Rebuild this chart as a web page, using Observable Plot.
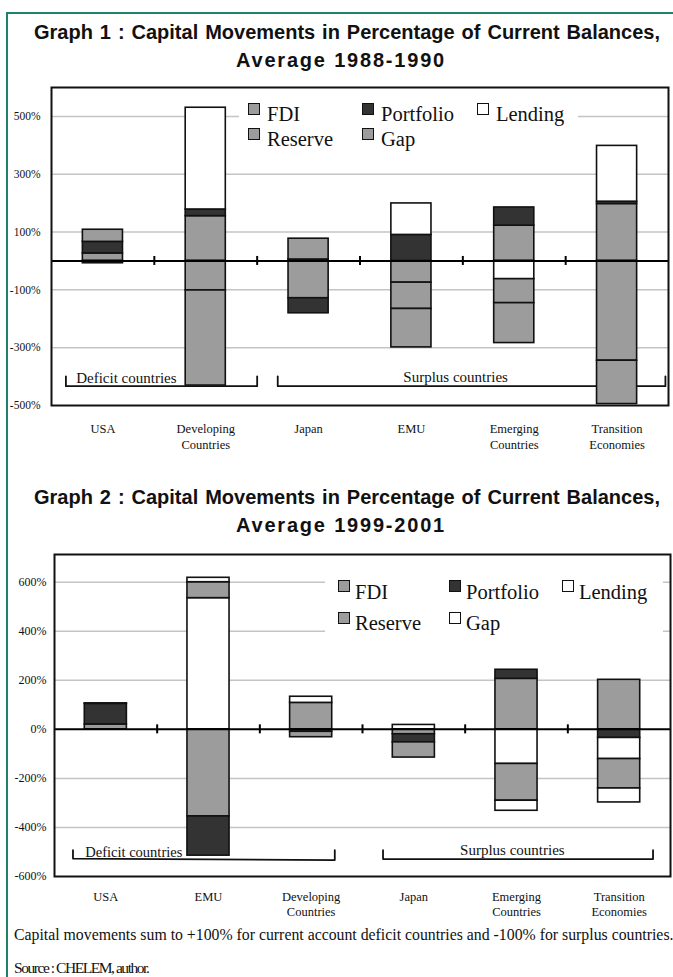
<!DOCTYPE html>
<html>
<head>
<meta charset="utf-8">
<script src="https://cdn.jsdelivr.net/npm/d3@7"></script>
<script src="https://cdn.jsdelivr.net/npm/@observablehq/plot@0.6"></script>
<style>
  html, body { margin:0; padding:0; background:#fff; }
  body { width:673px; height:977px; position:relative; overflow:hidden; }
  #outer { position:absolute; left:6px; top:12px; width:760px; height:1100px; border:2px solid #23806a; box-sizing:border-box; }
  .t1, .t2 { position:absolute; font-family:"Liberation Sans", Arial, sans-serif; font-weight:bold; font-size:20px; line-height:28px; color:#111; white-space:nowrap; }
  .t1 { left:34px; width:626px; text-align:justify; text-align-last:justify; }
  .t2 { left:0; width:682px; text-align:center; letter-spacing:1.8px; }
  .chart { position:absolute; left:0; }
  .legend { position:absolute; background:#fff; }
  .sw { position:absolute; width:12px; height:12px; box-sizing:border-box; border:1.6px solid #111; }
  .lt { position:absolute; font-family:"Liberation Serif", serif; font-size:20.5px; line-height:20px; color:#111; white-space:nowrap; }
  .note { position:absolute; left:14px; font-family:"Liberation Serif", serif; color:#111; white-space:nowrap; line-height:18px; }
</style>
</head>
<body>
<div id="outer"></div>
<div class="t1" style="top:18px">Graph 1 : Capital Movements in Percentage of Current Balances,</div>
<div class="t2" style="top:46px">Average 1988-1990</div>
<div id="c1" class="chart" style="top:70px"></div>
<div class="t1" style="top:483px">Graph 2 : Capital Movements in Percentage of Current Balances,</div>
<div class="t2" style="top:511px">Average 1999-2001</div>
<div id="c2" class="chart" style="top:540px"></div>
<div id="legends"></div>
<div class="note" style="top:926px;font-size:15.8px">Capital movements sum to +100% for current account deficit countries and -100% for surplus countries.</div>
<div class="note" style="top:959px;font-size:15.5px;letter-spacing:-1.45px">Source : CHELEM, author.</div>
<script>
// ---------- DATA ----------
const series = ["FDI", "Portfolio", "Lending", "Reserve", "Gap"];

// Graph 1 : average 1988-1990
const categories1 = ["USA", "Developing\nCountries", "Japan", "EMU", "Emerging\nCountries", "Transition\nEconomies"];
const fdi1       = [26, 155, -129, -75, 122, 197];
const portfolio1 = [40, 23, -52, 90, 63, 8];
const lending1   = [-8, 352, 5, 109, -63, 193];
const reserve1   = [0, -102, 0, -91, -83, -345];
const gap1       = [42, -329, 72, -133, -138, -150];
const yTicks1 = [500, 300, 100, -100, -300, -500];
const brackets1 = [
  {label: "Deficit countries", x1: 0.14, x2: 2.0, y1: -433, y2: -433, tip: -399, lx: 0.24},
  {label: "Surplus countries", x1: 2.2, x2: 5.97, y1: -433, y2: -433, tip: -399, lx: 3.93}
];

// Graph 2 : average 1999-2001
const categories2 = ["USA", "EMU", "Developing\nCountries", "Japan", "Emerging\nCountries", "Transition\nEconomies"];
const fdi2       = [20, -355, 108, -20, 206, 202];
const portfolio2 = [84, -160, -10, -33, 37, -35];
const lending2   = [2, 535, 25, 18, -141, -86];
const reserve2   = [0, 65, -22, -62, -150, -120];
const gap2       = [0, 18, 0, 0, -41, -57];
const yTicks2 = [600, 400, 200, 0, -200, -400, -600];
const brackets2 = [
  {label: "Deficit countries", x1: 0.18, x2: 2.73, y1: -527, y2: -533, tip: -493, lx: 0.30},
  {label: "Surplus countries", x1: 3.2, x2: 5.83, y1: -529, y2: -529, tip: -493, lx: 4.46}
];

// ---------- STYLES ----------
const GRAY = "#9c9c9c", DARK = "#333333", WHITE = "#ffffff";
const fills1 = [GRAY, DARK, WHITE, GRAY, GRAY];
const fills2 = [GRAY, DARK, WHITE, GRAY, WHITE];

function stackRows(values, cats) {
  const pos = cats.map(() => 0), neg = cats.map(() => 0);
  const rows = [];
  series.forEach((s, si) => {
    values[si].forEach((v, ci) => {
      if (!v) return;
      const base = v > 0 ? pos : neg;
      rows.push({series: s, si, ci, y1: base[ci], y2: base[ci] + v});
      base[ci] += v;
    });
  });
  return rows;
}

function drawChart(el, cfg) {
  const rows = stackRows(cfg.values, cfg.categories);
  const n = cfg.categories.length;
  const pts = cfg.brackets.flatMap(b => [
    {b: b.label, x: b.x1, y: b.tip}, {b: b.label, x: b.x1, y: b.y1},
    {b: b.label, x: b.x2, y: b.y2}, {b: b.label, x: b.x2, y: b.tip}]);
  const bw = cfg.barWidth;
  const boundaries = d3.range(1, n);
  const svg = Plot.plot({
    width: 673, height: cfg.height,
    marginLeft: cfg.ml, marginRight: cfg.mr, marginTop: cfg.mt, marginBottom: cfg.mb,
    x: {domain: [0, n], axis: null},
    y: {domain: cfg.yDomain},
    color: {type: "identity"},
    style: {fontFamily: '"Liberation Serif", serif', color: "#111", background: "transparent", overflow: "visible"},
    marks: [
      Plot.ruleY(cfg.yTicks.filter(t => t !== 0 && t !== cfg.yDomain[0]), {stroke: "#c4c4c4", strokeWidth: 1.5}),
      Plot.axisY(cfg.yTicks, {tickSize: 0, tickPadding: cfg.tickPad, tickFormat: d => d + "%", fontSize: cfg.yFont}),
      Plot.line(pts, {x: "x", y: "y", z: "b", stroke: "#111", strokeWidth: 1.8}),
      Plot.text([cfg.brackets[0]], {x: "lx", y: "y1", text: "label", textAnchor: "start", lineAnchor: "bottom", dy: cfg.bdy[0], fontSize: cfg.bFont[0]}),
      Plot.text([cfg.brackets[1]], {x: "lx", y: "y1", text: "label", textAnchor: "middle", lineAnchor: "bottom", dy: cfg.bdy[1], fontSize: cfg.bFont[1]}),
      Plot.rect(rows, {x1: d => d.ci + 0.5 - bw / 2, x2: d => d.ci + 0.5 + bw / 2, y1: "y1", y2: "y2",
        fill: d => cfg.fills[d.si], stroke: "#111", strokeWidth: 1.6}),
      Plot.ruleY([0], {stroke: "#000", strokeWidth: 2}),
      Plot.ruleX(boundaries, {y1: 0, y2: 0, insetTop: -4.5, insetBottom: -4.5, stroke: "#000", strokeWidth: 2}),
      Plot.text(cfg.categories, {x: (d, i) => i + 0.5, text: d => d, frameAnchor: "bottom", lineAnchor: "top",
        dy: cfg.xdy, fontSize: 12.5, lineHeight: cfg.xlh, fill: "#111"}),
      Plot.frame({stroke: "#111", strokeWidth: 2})
    ]
  });
  el.appendChild(svg);
}

drawChart(document.getElementById("c1"), {
  categories: categories1, values: [fdi1, portfolio1, lending1, reserve1, gap1], fills: fills1,
  yTicks: yTicks1, yDomain: [-500, 600], brackets: brackets1,
  height: 385, ml: 51, mr: 5, mt: 17, mb: 50, tickPad: 11, yFont: 11.5,
  barWidth: 0.39, xdy: 16, xlh: 1.28, bdy: [-3, -4], bFont: [15, 15]
});
drawChart(document.getElementById("c2"), {
  categories: categories2, values: [fdi2, portfolio2, lending2, reserve2, gap2], fills: fills2,
  yTicks: yTicks2, yDomain: [-600, 713], brackets: brackets2,
  height: 381, ml: 54, mr: 3, mt: 14, mb: 45, tickPad: 8, yFont: 12,
  barWidth: 0.41, xdy: 13.4, xlh: 1.2, bdy: [-2, -4], bFont: [14.5, 15]
});

// ---------- LEGENDS (HTML overlay) ----------
const legendLayouts = [
  {box: [239, 91, 339, 64], cols: [248, 362, 477], rows: [113.5, 138.5], gap: 19, swOff: -10.5, fills: fills1},
  {box: [325, 558, 338, 106], cols: [338, 449, 562], rows: [591.5, 623.3], gap: 17, swOff: -11.5, fills: fills2}
];
const slots = [[0, 0], [1, 0], [2, 0], [0, 1], [1, 1]];
const host = document.getElementById("legends");
legendLayouts.forEach(L => {
  const box = document.createElement("div");
  box.className = "legend";
  Object.assign(box.style, {left: L.box[0] + "px", top: L.box[1] + "px", width: L.box[2] + "px", height: L.box[3] + "px"});
  host.appendChild(box);
  series.forEach((s, i) => {
    const [c, r] = slots[i];
    const sw = document.createElement("div");
    sw.className = "sw";
    Object.assign(sw.style, {left: L.cols[c] + "px", top: (L.rows[r] + L.swOff) + "px", background: L.fills[i]});
    host.appendChild(sw);
    const t = document.createElement("div");
    t.className = "lt";
    t.textContent = s;
    Object.assign(t.style, {left: (L.cols[c] + L.gap) + "px", top: (L.rows[r] - 10) + "px"});
    host.appendChild(t);
  });
});
</script>
</body>
</html>
